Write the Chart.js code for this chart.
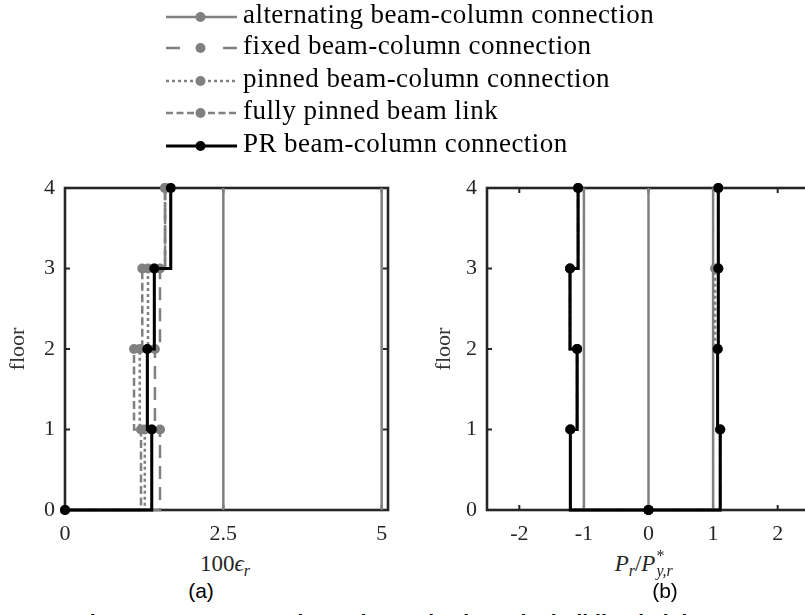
<!DOCTYPE html>
<html>
<head>
<meta charset="utf-8">
<script src="https://cdn.jsdelivr.net/npm/chart.js@4/dist/chart.umd.min.js"></script>
<style>
  html, body { margin:0; padding:0; background:#fff; }
  body { width:805px; height:615px; overflow:hidden; position:relative; }
  canvas { position:absolute; top:0; }
  #cA { left:0; }
  #cB { left:410px; }
  .lgrow { position:absolute; left:160px; height:16px; }
  .lgtxt { position:absolute; left:243px; font-family:'Liberation Serif', serif; font-size:27px; line-height:1; letter-spacing:0.45px; color:#000; white-space:nowrap; }
  .xt { position:absolute; font-family:'Liberation Serif', serif; font-size:23px; line-height:1; color:#262626; white-space:nowrap; transform:translateX(-50%); }
  .sb { font-size:16px; font-style:italic; position:relative; top:5px; }
  .ss { display:inline-block; position:relative; width:24px; height:23px; vertical-align:top; }
  .ss .sup { position:absolute; left:1px; top:-4px; font-size:16px; }
  .ss .sub { position:absolute; left:1px; top:11px; font-size:16px; font-style:italic; }
  .lab { position:absolute; font-family:'Liberation Sans', Arial, sans-serif; font-size:21px; line-height:1; color:#000; transform:translateX(-50%); }
  .cap { position:absolute; left:77px; top:611px; font-family:'Liberation Sans', Arial, sans-serif; font-weight:bold; font-size:21px; line-height:1; color:#000; white-space:nowrap; }
</style>
</head>
<body>
<canvas id="cA" width="400" height="550"></canvas>
<canvas id="cB" width="412" height="550"></canvas>
<div id="legend"></div>
<div class="xt" style="left:225px; top:552px;">100<i>ϵ</i><span class="sb">r</span></div>
<div class="xt" style="left:647px; top:552px;"><i>P</i><span class="sb">r</span>/<i>P</i><span class="ss"><span class="sup">*</span><span class="sub">y,r</span></span></div>
<div class="lab" style="left:201px; top:580px;">(a)</div>
<div class="lab" style="left:665px; top:580px;">(b)</div>
<div class="cap">Figure C.1: Case 3: column demands along the building height</div>
<script>
// ---------------- data ----------------
const floors = [0, 1, 2, 3, 4];
const floorTicks = [0, 1, 2, 3, 4];

// (a) 100*epsilon_r
const strainTicks = [0, 2.5, 5];
const strainRefLines = [2.5, 5];
const strainAlternating = [0, 1.37, 1.30, 1.41, 1.67];
const strainFixed = [0, 1.50, 1.42, 1.50, 1.58];
const strainPinned = [0, 1.26, 1.18, 1.31, 1.58];
const strainFullyPinned = [0, 1.20, 1.09, 1.22, 1.58];
const strainPR = [0, 1.37, 1.30, 1.41, 1.67];

// (b) P_r / P*_{y,r}
const axialTicks = [-2, -1, 0, 1, 2];
const axialRefLines = [-1, 0, 1];
const axialAlternatingComp = [0, -1.21, -1.105, -1.215, -1.09];
const axialAlternatingTens = [0, 1.11, 1.07, 1.08, 1.08];
const axialFixedComp = [0, -1.21, -1.105, -1.215, -1.09];
const axialFixedTens = [0, 1.11, 1.07, 1.08, 1.08];
const axialPinnedComp = [0, -1.21, -1.105, -1.215, -1.09];
const axialPinnedTens = [0, 1.11, 1.07, 1.03, 1.08];
const axialFullyPinnedComp = [0, -1.21, -1.105, -1.215, -1.09];
const axialFullyPinnedTens = [0, 1.11, 1.07, 1.08, 1.08];
const axialPRComp = [0, -1.21, -1.105, -1.215, -1.09];
const axialPRTens = [0, 1.11, 1.07, 1.08, 1.08];

const seriesNames = [
  'alternating beam-column connection',
  'fixed beam-column connection',
  'pinned beam-column connection',
  'fully pinned beam link',
  'PR beam-column connection'
];

// ---------------- styles ----------------
const GRAY = '#808080';
const BLACK = '#000000';
const AX = '#262626';
const styles = {
  alternating: { color: GRAY, width: 2.5, dash: [] },
  fixed: { color: GRAY, width: 2.5, dash: [13, 8] },
  pinned: { color: GRAY, width: 2.5, dash: [3, 3] },
  fully: { color: GRAY, width: 2.5, dash: [8, 3.5] },
  pr: { color: BLACK, width: 3, dash: [] }
};

function stair(values) { return floors.map((f, i) => ({ x: values[i], y: f })); }
function stairSet(values, st) {
  return {
    data: stair(values), borderColor: st.color, backgroundColor: st.color,
    borderWidth: st.width, borderDash: st.dash, stepped: 'before',
    pointRadius: 5, pointHoverRadius: 5, pointBorderWidth: 0,
    pointBackgroundColor: st.color, pointBorderColor: st.color,
    fill: false, clip: false
  };
}
function refSet(v) {
  return {
    data: [{ x: v, y: floors[0] }, { x: v, y: floors[floors.length - 1] }],
    borderColor: GRAY, borderWidth: 2.5, pointRadius: 0, fill: false, clip: false
  };
}

const framePlugin = {
  id: 'frame',
  beforeDatasetsDraw(chart) {
    const { ctx, chartArea: a } = chart;
    const xs = chart.scales.x, ys = chart.scales.y;
    ctx.save();
    ctx.setLineDash([]);
    ctx.strokeStyle = AX;
    ctx.lineWidth = 2;
    const tl = 5;
    const seg = (x1, y1, x2, y2) => { ctx.beginPath(); ctx.moveTo(x1, y1); ctx.lineTo(x2, y2); ctx.stroke(); };
    ys.ticks.forEach(t => {
      const y = ys.getPixelForValue(t.value);
      seg(a.left, y, a.left + tl, y); seg(a.right, y, a.right - tl, y);
    });
    xs.ticks.forEach(t => {
      const x = xs.getPixelForValue(t.value);
      seg(x, a.bottom, x, a.bottom - tl); seg(x, a.top, x, a.top + tl);
    });
    ctx.lineWidth = 2.6;
    ctx.strokeRect(a.left, a.top, a.right - a.left, a.bottom - a.top);
    ctx.restore();
  }
};

const tickFont = { family: "'Liberation Serif', serif", size: 22 };

function makeOptions(xmin, xmax, xticks, yAxisWidth, titlePad, padRight) {
  return {
    responsive: false, animation: false, devicePixelRatio: 1,
    layout: { padding: { top: 188, left: 0, right: padRight, bottom: 0 } },
    plugins: { legend: { display: false }, tooltip: { enabled: false } },
    events: [],
    scales: {
      x: {
        type: 'linear', min: xmin, max: xmax,
        grid: { display: false, drawTicks: false }, border: { display: false },
        afterBuildTicks: s => { s.ticks = xticks.map(v => ({ value: v })); },
        afterFit: s => { s.height = 40; },
        ticks: { font: tickFont, color: AX, padding: 11, maxRotation: 0,
                 callback: v => String(v) }
      },
      y: {
        type: 'linear', min: floorTicks[0], max: floorTicks[floorTicks.length - 1],
        grid: { display: false, drawTicks: false }, border: { display: false },
        afterBuildTicks: s => { s.ticks = floorTicks.map(v => ({ value: v })); },
        afterFit: s => { s.width = yAxisWidth; },
        ticks: { font: tickFont, color: AX, padding: 10 },
        title: { display: true, text: 'floor', color: '#333', font: tickFont,
                 padding: { top: titlePad, bottom: 0 } }
      }
    }
  };
}

// ---------------- chart (a) ----------------
new Chart(document.getElementById('cA'), {
  type: 'line',
  data: {
    datasets: [
      stairSet(strainPR, styles.pr),
      stairSet(strainAlternating, styles.alternating),
      stairSet(strainFixed, styles.fixed),
      stairSet(strainPinned, styles.pinned),
      stairSet(strainFullyPinned, styles.fully),
      ...strainRefLines.map(refSet)
    ]
  },
  options: makeOptions(0, 5.1, strainTicks, 65, 5, 12),
  plugins: [framePlugin]
});

// ---------------- chart (b) ----------------
new Chart(document.getElementById('cB'), {
  type: 'line',
  data: {
    datasets: [
      stairSet(axialPRComp, styles.pr),
      stairSet(axialPRTens, styles.pr),
      stairSet(axialAlternatingComp, styles.alternating),
      stairSet(axialAlternatingTens, styles.alternating),
      stairSet(axialFixedComp, styles.fixed),
      stairSet(axialFixedTens, styles.fixed),
      stairSet(axialPinnedComp, styles.pinned),
      stairSet(axialPinnedTens, styles.pinned),
      stairSet(axialFullyPinnedComp, styles.fully),
      stairSet(axialFullyPinnedTens, styles.fully),
      ...axialRefLines.map(refSet)
    ]
  },
  options: makeOptions(-2.5, 2.5, axialTicks, 77, 21, 12),
  plugins: [framePlugin]
});

// ---------------- legend ----------------
const legendRows = [
  { name: seriesNames[0], st: styles.alternating, dash: '' , y: 17 },
  { name: seriesNames[1], st: styles.fixed, dash: '14 43 14', y: 48 },
  { name: seriesNames[2], st: styles.pinned, dash: '3 3', y: 80.5 },
  { name: seriesNames[3], st: styles.fully, dash: '7 3.5', y: 113 },
  { name: seriesNames[4], st: styles.pr, dash: '', y: 146 }
];
const lg = document.getElementById('legend');
legendRows.forEach(r => {
  const svgNS = 'http://www.w3.org/2000/svg';
  const svg = document.createElementNS(svgNS, 'svg');
  svg.setAttribute('width', '84'); svg.setAttribute('height', '16');
  svg.setAttribute('class', 'lgrow');
  svg.style.top = (r.y - 8) + 'px';
  const ln = document.createElementNS(svgNS, 'line');
  ln.setAttribute('x1', '6'); ln.setAttribute('x2', '77');
  ln.setAttribute('y1', '8'); ln.setAttribute('y2', '8');
  ln.setAttribute('stroke', r.st.color); ln.setAttribute('stroke-width', r.st.width);
  if (r.dash) ln.setAttribute('stroke-dasharray', r.dash);
  svg.appendChild(ln);
  const c = document.createElementNS(svgNS, 'circle');
  c.setAttribute('cx', '40.5'); c.setAttribute('cy', '8'); c.setAttribute('r', '5');
  c.setAttribute('fill', r.st.color);
  svg.appendChild(c);
  lg.appendChild(svg);
  const t = document.createElement('div');
  t.className = 'lgtxt';
  t.textContent = r.name;
  t.style.top = (r.y + 7 - 22.6) + 'px';
  lg.appendChild(t);
});
</script>
</body>
</html>
